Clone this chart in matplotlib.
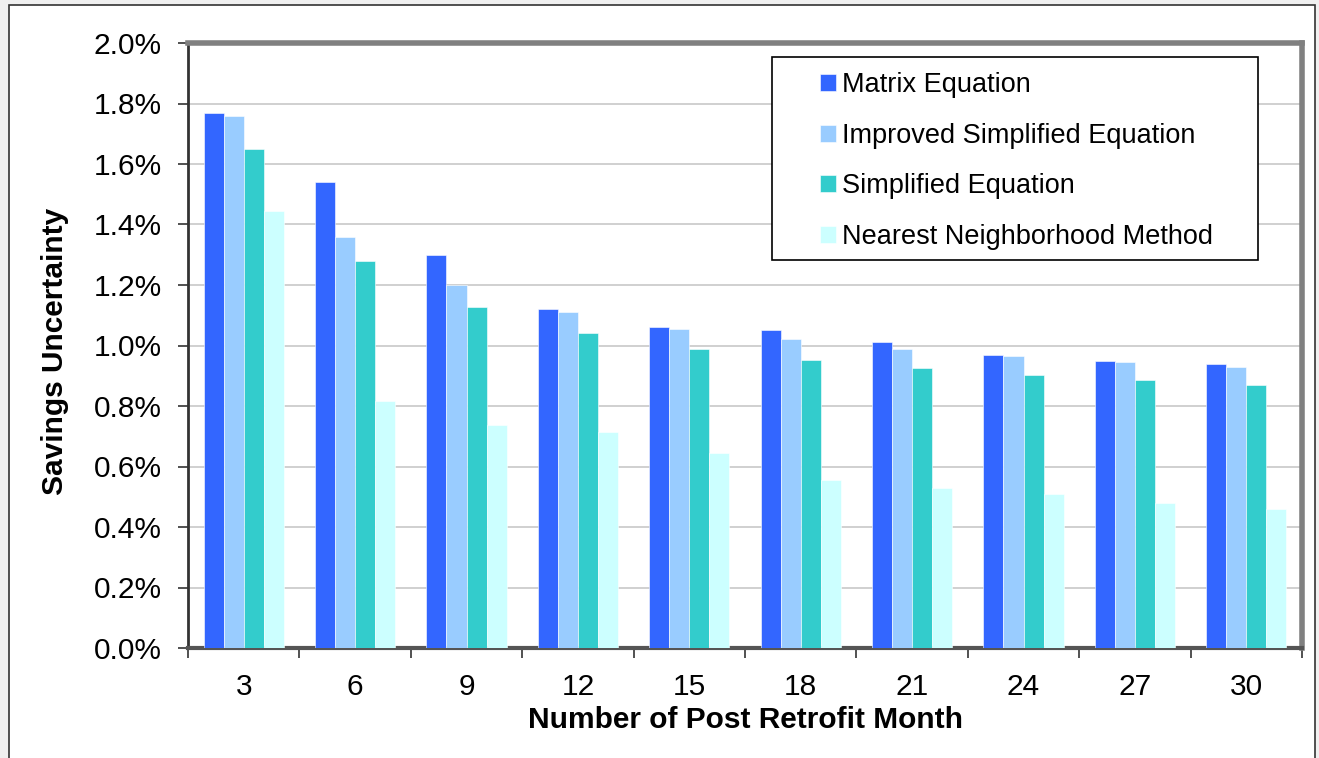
import numpy as np
import matplotlib
matplotlib.use("Agg")
import matplotlib.pyplot as plt
from matplotlib.patches import Rectangle
from matplotlib.ticker import FuncFormatter, FixedLocator

plt.rcParams['font.family'] = ['Liberation Sans', 'DejaVu Sans']

months = ['3', '6', '9', '12', '15', '18', '21', '24', '27', '30']
series_names = ['Matrix Equation', 'Improved Simplified Equation',
                'Simplified Equation', 'Nearest Neighborhood Method']
matrix_eq = [1.77, 1.54, 1.30, 1.12, 1.06, 1.05, 1.01, 0.97, 0.95, 0.94]
improved_eq = [1.76, 1.36, 1.20, 1.11, 1.055, 1.02, 0.99, 0.965, 0.946, 0.93]
simplified_eq = [1.65, 1.28, 1.127, 1.04, 0.99, 0.953, 0.924, 0.902, 0.885, 0.87]
nearest_nb = [1.446, 0.815, 0.736, 0.714, 0.646, 0.557, 0.528, 0.508, 0.48, 0.46]
colors = ['#3366FF', '#99CCFF', '#33CCCC', '#CCFFFF']

fig = plt.figure(figsize=(13.19, 7.58), dpi=100)
fig.patch.set_facecolor('#f0f0f0')
# outer chart frame
fig.patches.append(Rectangle((9 / 1319, -0.01), (1315 - 9) / 1319, 1.01 - 5 / 758,
                             transform=fig.transFigure, facecolor='white',
                             edgecolor='#333333', linewidth=1.2, zorder=-5))

ax = fig.add_axes([188 / 1319, 1 - 648 / 758, 1114 / 1319, 605 / 758])

x = np.arange(len(months))
w = 0.18
all_series = [matrix_eq, improved_eq, simplified_eq, nearest_nb]
for i, (vals, name, c) in enumerate(zip(all_series, series_names, colors)):
    ax.bar(x + (i - 1.5) * w, vals, w, color=c, label=name,
           edgecolor='white', linewidth=0.4, zorder=3)

ax.set_xlim(-0.5, len(months) - 0.5)
ax.set_ylim(0, 2.0)
ax.set_yticks(np.arange(0, 2.01, 0.2))
ax.yaxis.set_major_formatter(FuncFormatter(lambda v, p: f"{v:.1f}%"))
ax.grid(axis='y', color='#c8c8c8', linewidth=1.2, zorder=0)
ax.set_axisbelow(True)

ax.set_xticks(x)
ax.set_xticklabels(months)
ax.xaxis.set_minor_locator(FixedLocator(np.arange(-0.5, len(months), 1.0)))
ax.tick_params(axis='x', which='major', length=0, pad=18, labelsize=21.5)
ax.tick_params(axis='x', which='minor', length=7, width=1.2, direction='out', color='#333333')
ax.tick_params(axis='y', length=7, width=1.2, pad=12, labelsize=21.5, color='#333333')

for s in ['top', 'right']:
    ax.spines[s].set_color('#808080')
    ax.spines[s].set_linewidth(4)
ax.spines['left'].set_color('#333333')
ax.spines['left'].set_linewidth(2)
ax.spines['bottom'].set_color('#555555')
ax.spines['bottom'].set_linewidth(3)

ax.set_xlabel('Number of Post Retrofit Month', fontsize=21.5, fontweight='bold')
ax.xaxis.set_label_coords(0.5, -0.096)
ax.set_ylabel('Savings Uncertainty', fontsize=21.5, fontweight='bold')
ax.yaxis.set_label_coords(-0.107, 0.49)

# legend box drawn separately (wide padding like the original)
ax.add_patch(Rectangle(((772 - 188) / 1114, (648 - 260) / 605),
                       (1258 - 772) / 1114, (260 - 57) / 605,
                       transform=ax.transAxes, facecolor='white',
                       edgecolor='black', linewidth=1.2, zorder=4, clip_on=False))
leg = ax.legend(loc='upper left', bbox_to_anchor=((820 - 188) / 1114, 1 - (72 - 43) / 605),
                borderaxespad=0, borderpad=0, fontsize=19.5, frameon=False,
                handlelength=0.6, handleheight=0.6, handletextpad=0.2,
                labelspacing=0.91)
leg.set_zorder(5)

fig.savefig('out.png', dpi=100)
